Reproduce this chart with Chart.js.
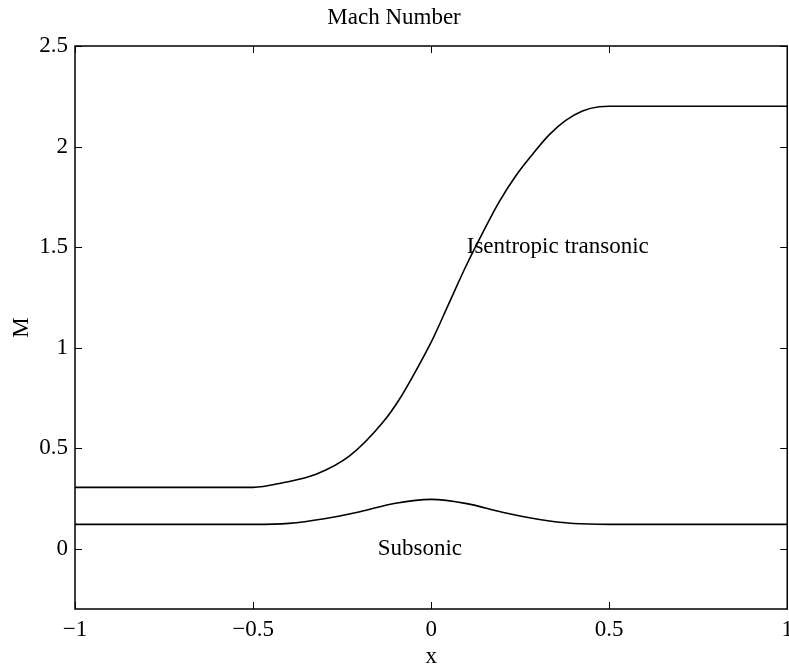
<!DOCTYPE html>
<html>
<head>
<meta charset="utf-8">
<script src="https://cdn.jsdelivr.net/npm/chart.js@4/dist/chart.umd.min.js"></script>
<style>
html,body{margin:0;padding:0;background:#fff;overflow:hidden;}
#caja{width:789px;height:664px;overflow:hidden;}
</style>
</head>
<body>
<div id="caja"><canvas id="grafica" width="800" height="664"></canvas></div>
<script>
//datos
const xTrans=[-1,-0.5,-0.416,-0.323,-0.229,-0.136,-0.089,-0.043,0.004,0.051,0.098,0.145,0.191,0.238,0.285,0.332,0.378,0.425,0.472,0.5,1];
const transonico=[0.305,0.305,0.328,0.37,0.461,0.627,0.743,0.884,1.041,1.224,1.406,1.572,1.725,1.855,1.962,2.059,2.13,2.177,2.198,2.2,2.2];
const xSub=[-1,-0.5,-0.4,-0.3,-0.2,-0.1,0,0.1,0.2,0.3,0.4,0.5,1];
const subsonico=[0.121,0.121,0.126,0.149,0.184,0.226,0.245,0.224,0.181,0.146,0.125,0.121,0.121];
const xTicks=[-1,-0.5,0,0.5,1];
const yTicks=[0,0.5,1,1.5,2,2.5];
const etiquetas=[
  {texto:'Isentropic transonic',x:0.1,y:1.5},
  {texto:'Subsonic',x:-0.15,y:0}
];

const fuente="'Liberation Serif', 'Times New Roman', serif";
const tam=23;
const menos=v=>v<0?'\u2212'+Math.abs(v):String(v);

function puntos(xs,vals){
  return xs.map((x,i)=>({x:x,y:vals[i]}));
}

//caja, ticks hacia dentro y textos
const marco={
  id:'marco',
  afterDraw(chart){
    const ctx=chart.ctx;
    const a=chart.chartArea;
    const sx=chart.scales.x, sy=chart.scales.y;
    const largo=7;
    ctx.save();
    ctx.strokeStyle='#000';
    ctx.lineWidth=1;
    ctx.beginPath();
    xTicks.forEach(v=>{
      const px=Math.round(sx.getPixelForValue(v))+0.5;
      ctx.moveTo(px,a.bottom);ctx.lineTo(px,a.bottom-largo);
      ctx.moveTo(px,a.top);ctx.lineTo(px,a.top+largo);
    });
    yTicks.forEach(v=>{
      const py=Math.round(sy.getPixelForValue(v))+0.5;
      ctx.moveTo(a.left,py);ctx.lineTo(a.left+largo,py);
      ctx.moveTo(a.right,py);ctx.lineTo(a.right-largo,py);
    });
    ctx.stroke();
    ctx.lineWidth=1.5;
    ctx.strokeRect(a.left,a.top,a.right-a.left,a.bottom-a.top);
    ctx.fillStyle='#000';
    ctx.font=tam+'px '+fuente;
    ctx.textAlign='left';
    ctx.textBaseline='middle';
    etiquetas.forEach(e=>{
      ctx.fillText(e.texto,sx.getPixelForValue(e.x),sy.getPixelForValue(e.y));
    });
    ctx.restore();
  }
};

new Chart(document.getElementById('grafica'),{
  type:'scatter',
  data:{
    datasets:[
      {label:'Isentropic transonic',data:puntos(xTrans,transonico)},
      {label:'Subsonic',data:puntos(xSub,subsonico)}
    ]
  },
  options:{
    responsive:false,
    animation:false,
    showLine:true,
    layout:{padding:{left:0,right:12,top:0,bottom:0}},
    elements:{
      point:{radius:0},
      line:{borderColor:'#000',borderWidth:1.6,cubicInterpolationMode:'monotone',fill:false}
    },
    plugins:{
      legend:{display:false},
      tooltip:{enabled:false},
      title:{
        display:true,
        text:'Mach Number',
        color:'#000',
        font:{family:fuente,size:tam,weight:'normal',lineHeight:1.2},
        padding:{top:4,bottom:14.4}
      }
    },
    scales:{
      x:{
        type:'linear',
        min:-1,max:1,
        grid:{display:false,drawTicks:false},
        border:{display:false},
        afterBuildTicks:s=>{s.ticks=xTicks.map(v=>({value:v}));},
        afterFit:s=>{s.height=55;},
        ticks:{color:'#000',padding:7,maxRotation:0,font:{family:fuente,size:tam},callback:v=>menos(v)},
        title:{display:true,text:'x',color:'#000',font:{family:fuente,size:tam,lineHeight:0.6},padding:{top:0,bottom:0}}
      },
      y:{
        type:'linear',
        min:-0.3,max:2.5,
        grid:{display:false,drawTicks:false},
        border:{display:false},
        afterBuildTicks:s=>{s.ticks=yTicks.map(v=>({value:v}));},
        afterFit:s=>{s.width=75;},
        ticks:{color:'#000',padding:7,font:{family:fuente,size:tam},callback:v=>menos(v)},
        title:{display:true,text:'M',color:'#000',font:{family:fuente,size:tam,lineHeight:1.2},padding:{top:8,bottom:0}}
      }
    }
  },
  plugins:[marco]
});
</script>
</body>
</html>
